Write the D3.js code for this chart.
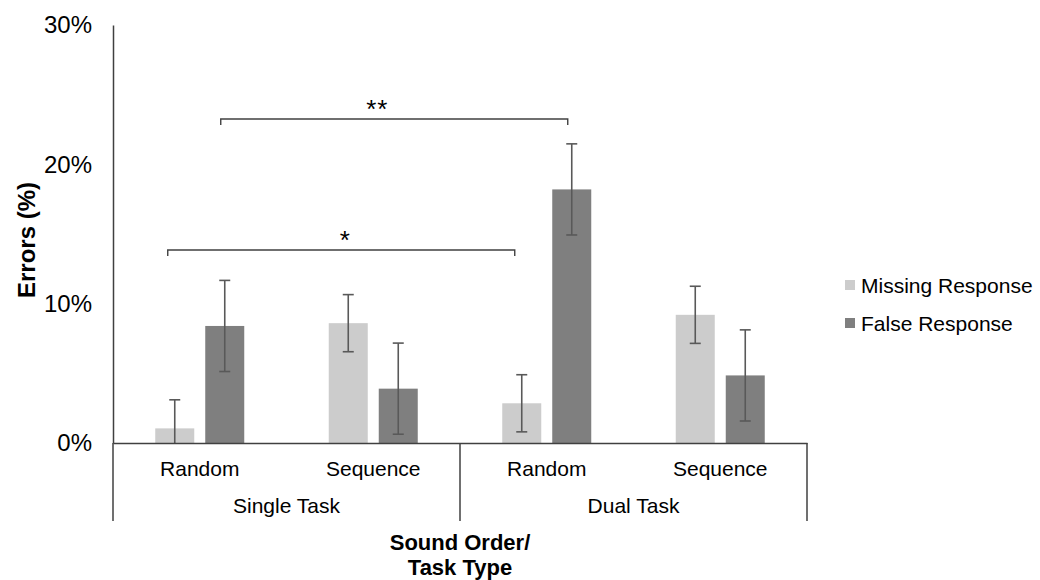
<!DOCTYPE html>
<html>
<head>
<meta charset="utf-8">
<script src="https://cdn.jsdelivr.net/npm/d3@7"></script>
<style>
  body { margin: 0; background: #fff; }
  text { font-family: "Liberation Sans", Arial, sans-serif; fill: #000; }
</style>
</head>
<body>
<div id="chart"></div>
<script>
var width = 1040,
    height = 580

// data (percent)
var categories = ["Random", "Sequence", "Random", "Sequence"]
var groups = ["Single Task", "Dual Task"]
var series = ["Missing Response", "False Response"]
var missing = [1.05, 8.6, 2.85, 9.2]
var falseResp = [8.4, 3.9, 18.2, 4.85]
var missingErr = [2.05, 2.05, 2.05, 2.05]
var falseErr = [3.27, 3.27, 3.27, 3.27]
var yTicks = [0, 10, 20, 30]
var sigLabels = ["**", "*"]
var sigLevels = [23.25, 13.85]

var colors = ["#cccccc", "#7f7f7f"]
var axisColor = "#404040"
var errColor = "#595959"

var plot = {left: 113, right: 807, top: 25, bottom: 443}

var svg = d3.select("#chart")
  .append("svg")
    .attr("width", width)
    .attr("height", height)

var y = d3.scaleLinear()
  .domain([0, 30])
  .range([plot.bottom, plot.top])

var x0 = d3.scaleBand()
  .domain(d3.range(categories.length))
  .range([plot.left, plot.right])
  .padding(0)

var pairW = 89
var x1 = d3.scaleBand()
  .domain(d3.range(series.length))
  .range([0, pairW])
  .paddingInner(0.22)

function barX(i, s) {
  return x0(i) + (x0.bandwidth() - pairW) / 2 + x1(s)
}
function barCx(i, s) { return barX(i, s) + x1.bandwidth() / 2 }

var values = [missing, falseResp]
var errs = [missingErr, falseErr]

// bars
series.forEach(function(name, s) {
  svg.append("g").selectAll("rect")
    .data(values[s])
    .enter()
    .append("rect")
      .attr("x", function(d, i) { return barX(i, s) })
      .attr("y", function(d) { return y(d) })
      .attr("width", x1.bandwidth())
      .attr("height", function(d) { return y(0) - y(d) })
      .attr("fill", colors[s])
})

// error bars
series.forEach(function(name, s) {
  var g = svg.append("g")
    .attr("stroke", errColor)
    .attr("stroke-width", 1.6)
  values[s].forEach(function(v, i) {
    var cx = barCx(i, s)
    var hi = v + errs[s][i]
    var lo = Math.max(0, v - errs[s][i])
    g.append("line")
      .attr("x1", cx).attr("x2", cx)
      .attr("y1", y(hi)).attr("y2", y(lo))
    g.append("line")
      .attr("x1", cx - 5.5).attr("x2", cx + 5.5)
      .attr("y1", y(hi)).attr("y2", y(hi))
    if (v - errs[s][i] > 0) {
      g.append("line")
        .attr("x1", cx - 5.5).attr("x2", cx + 5.5)
        .attr("y1", y(lo)).attr("y2", y(lo))
    }
  })
})

// y axis
var yAxis = d3.axisLeft(y)
  .tickValues(yTicks)
  .tickSize(0)
  .tickPadding(21)
  .tickFormat(function(d) { return d + "%" })

svg.append("g")
  .attr("transform", "translate(" + plot.left + ",0)")
  .call(yAxis)
  .call(function(g) {
    g.select(".domain").attr("stroke", axisColor).attr("stroke-width", 1.5)
    g.selectAll("text")
      .style("font-size", "24px")
      .style("font-family", "'Liberation Sans', Arial, sans-serif")
      .attr("fill", "#000")
  })

// x axis: line plus category / group labels
var xAxis = d3.axisBottom(x0)
  .tickSize(0)
  .tickPadding(18)
  .tickFormat(function(i) { return categories[i] })

svg.append("g")
  .attr("transform", "translate(0," + plot.bottom + ")")
  .call(xAxis)
  .call(function(g) {
    g.select(".domain").attr("stroke", axisColor).attr("stroke-width", 1.5)
    g.selectAll("text")
      .style("font-size", "21px")
      .style("font-family", "'Liberation Sans', Arial, sans-serif")
      .attr("fill", "#000")
  })

// group divider lines below the axis
var dividers = [0, 2, 4].map(function(i) {
  return i < categories.length ? x0(i) : plot.right
})
svg.append("g").selectAll("line")
  .data(dividers)
  .enter()
  .append("line")
    .attr("x1", function(d) { return d })
    .attr("x2", function(d) { return d })
    .attr("y1", plot.bottom)
    .attr("y2", 521)
    .attr("stroke", axisColor)
    .attr("stroke-width", 1.5)

svg.append("g").selectAll("text")
  .data(groups)
  .enter()
  .append("text")
    .attr("x", function(d, k) { return (dividers[k] + dividers[k + 1]) / 2 })
    .attr("y", 513)
    .attr("text-anchor", "middle")
    .style("font-size", "21px")
    .text(function(d) { return d })

// axis titles
var xTitle = svg.append("text")
  .attr("text-anchor", "middle")
  .style("font-size", "22px")
  .style("font-weight", "bold")
xTitle.append("tspan").attr("x", (plot.left + plot.right) / 2).attr("y", 550).text("Sound Order/")
xTitle.append("tspan").attr("x", (plot.left + plot.right) / 2).attr("y", 575).text("Task Type")

svg.append("text")
  .attr("transform", "translate(35,240) rotate(-90)")
  .attr("text-anchor", "middle")
  .style("font-size", "24px")
  .style("font-weight", "bold")
  .text("Errors (%)")

// significance brackets
var sig = [
  {label: sigLabels[0], a: barCx(0, 1) - 4, b: barCx(2, 1) - 4, level: sigLevels[0], dx: -17},
  {label: sigLabels[1], a: barCx(0, 0) - 7, b: barCx(2, 0) - 7, level: sigLevels[1], dx: 4}
]
sig.forEach(function(d) {
  var yy = y(d.level)
  svg.append("path")
    .attr("d", "M" + d.a + "," + (yy + 6) + "V" + yy + "H" + d.b + "V" + (yy + 6))
    .attr("fill", "none")
    .attr("stroke", axisColor)
    .attr("stroke-width", 1.4)
  svg.append("text")
    .attr("x", (d.a + d.b) / 2 + d.dx)
    .attr("y", yy - 1)
    .attr("text-anchor", "middle")
    .style("font-size", "26px")
    .style("letter-spacing", "1px")
    .text(d.label)
})

// legend
var legend = svg.append("g")
  .attr("transform", "translate(845,280)")
legend.selectAll("rect")
  .data(series)
  .enter()
  .append("rect")
    .attr("x", 0)
    .attr("y", function(d, i) { return i * 38 })
    .attr("width", 10)
    .attr("height", 10)
    .attr("fill", function(d, i) { return colors[i] })
legend.selectAll("text")
  .data(series)
  .enter()
  .append("text")
    .attr("x", 16)
    .attr("y", function(d, i) { return i * 38 + 12.5 })
    .style("font-size", "21px")
    .text(function(d) { return d })
</script>
</body>
</html>
